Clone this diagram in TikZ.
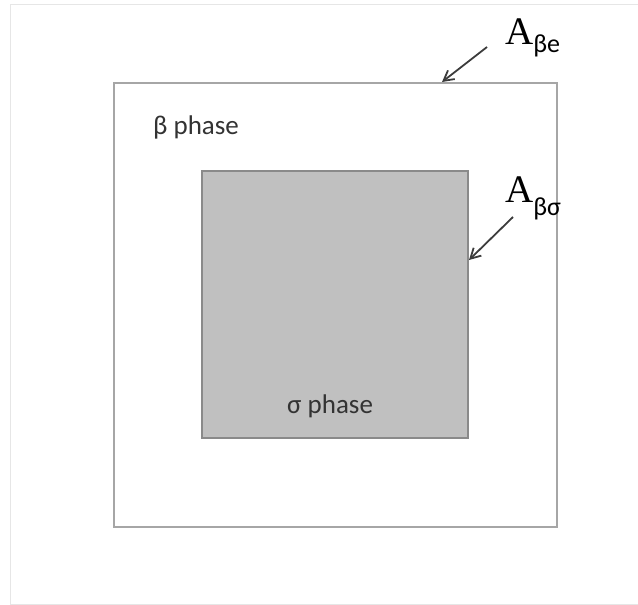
\documentclass[tikz,border=0pt]{standalone}
\usepackage{fontspec}
\setmainfont{Carlito}
\newfontfamily\labserif{Liberation Serif}
\usetikzlibrary{arrows.meta}
\definecolor{txt}{HTML}{333333}
\definecolor{outerc}{HTML}{A6A6A6}
\definecolor{innerc}{HTML}{8A8A8A}
\definecolor{innerf}{HTML}{C0C0C0}
\definecolor{framec}{HTML}{E6E6E6}
\definecolor{arrc}{HTML}{3C3C3C}
\tikzset{
  phaselab/.style={anchor=base west, inner sep=0pt, text=txt, font=\fontsize{27}{30}\selectfont},
  arealab/.style={anchor=base west, inner sep=0pt, text=black},
  pointer/.style={draw=arrc, line width=1.8pt, -{Straight Barb[length=10pt,width=11pt,line width=1.8pt]}},
}
\begin{document}
\begin{tikzpicture}[x=1pt,y=-1pt]
\useasboundingbox (0,0) rectangle (638,605);
% light frame
\draw[framec, line width=1pt] (10,605) -- (10,4) -- (638,4);
\draw[framec, line width=1pt] (10,604) -- (638,604);
% outer square
\node[draw=outerc, line width=2pt, minimum width=443pt, minimum height=444pt, inner sep=0pt] (outer) at (335.5,305) {};
% inner square
\node[draw=innerc, fill=innerf, line width=2pt, minimum width=266pt, minimum height=267pt, inner sep=0pt] (inner) at (335,304.5) {};
% labels
\node[phaselab] (beta) at (153,134) {β phase};
\node[phaselab] (sigma) at (287,413) {σ phase};
\node[arealab] (Abe) at (505,45) {{\labserif\fontsize{39}{40}\selectfont A}\raisebox{-8pt}{\fontsize{26}{28}\selectfont βe}};
\node[arealab] (Abs) at (505,202) {{\labserif\fontsize{39}{40}\selectfont A}\raisebox{-13pt}{\fontsize{26}{28}\selectfont βσ}};
% arrows
\coordinate (s1) at (487,47);
\coordinate (t1) at (442,82);
\coordinate (s2) at (513,217);
\coordinate (t2) at (469,260);
\draw[pointer] (s1) -- (t1);
\draw[pointer] (s2) -- (t2);
\end{tikzpicture}
\end{document}
